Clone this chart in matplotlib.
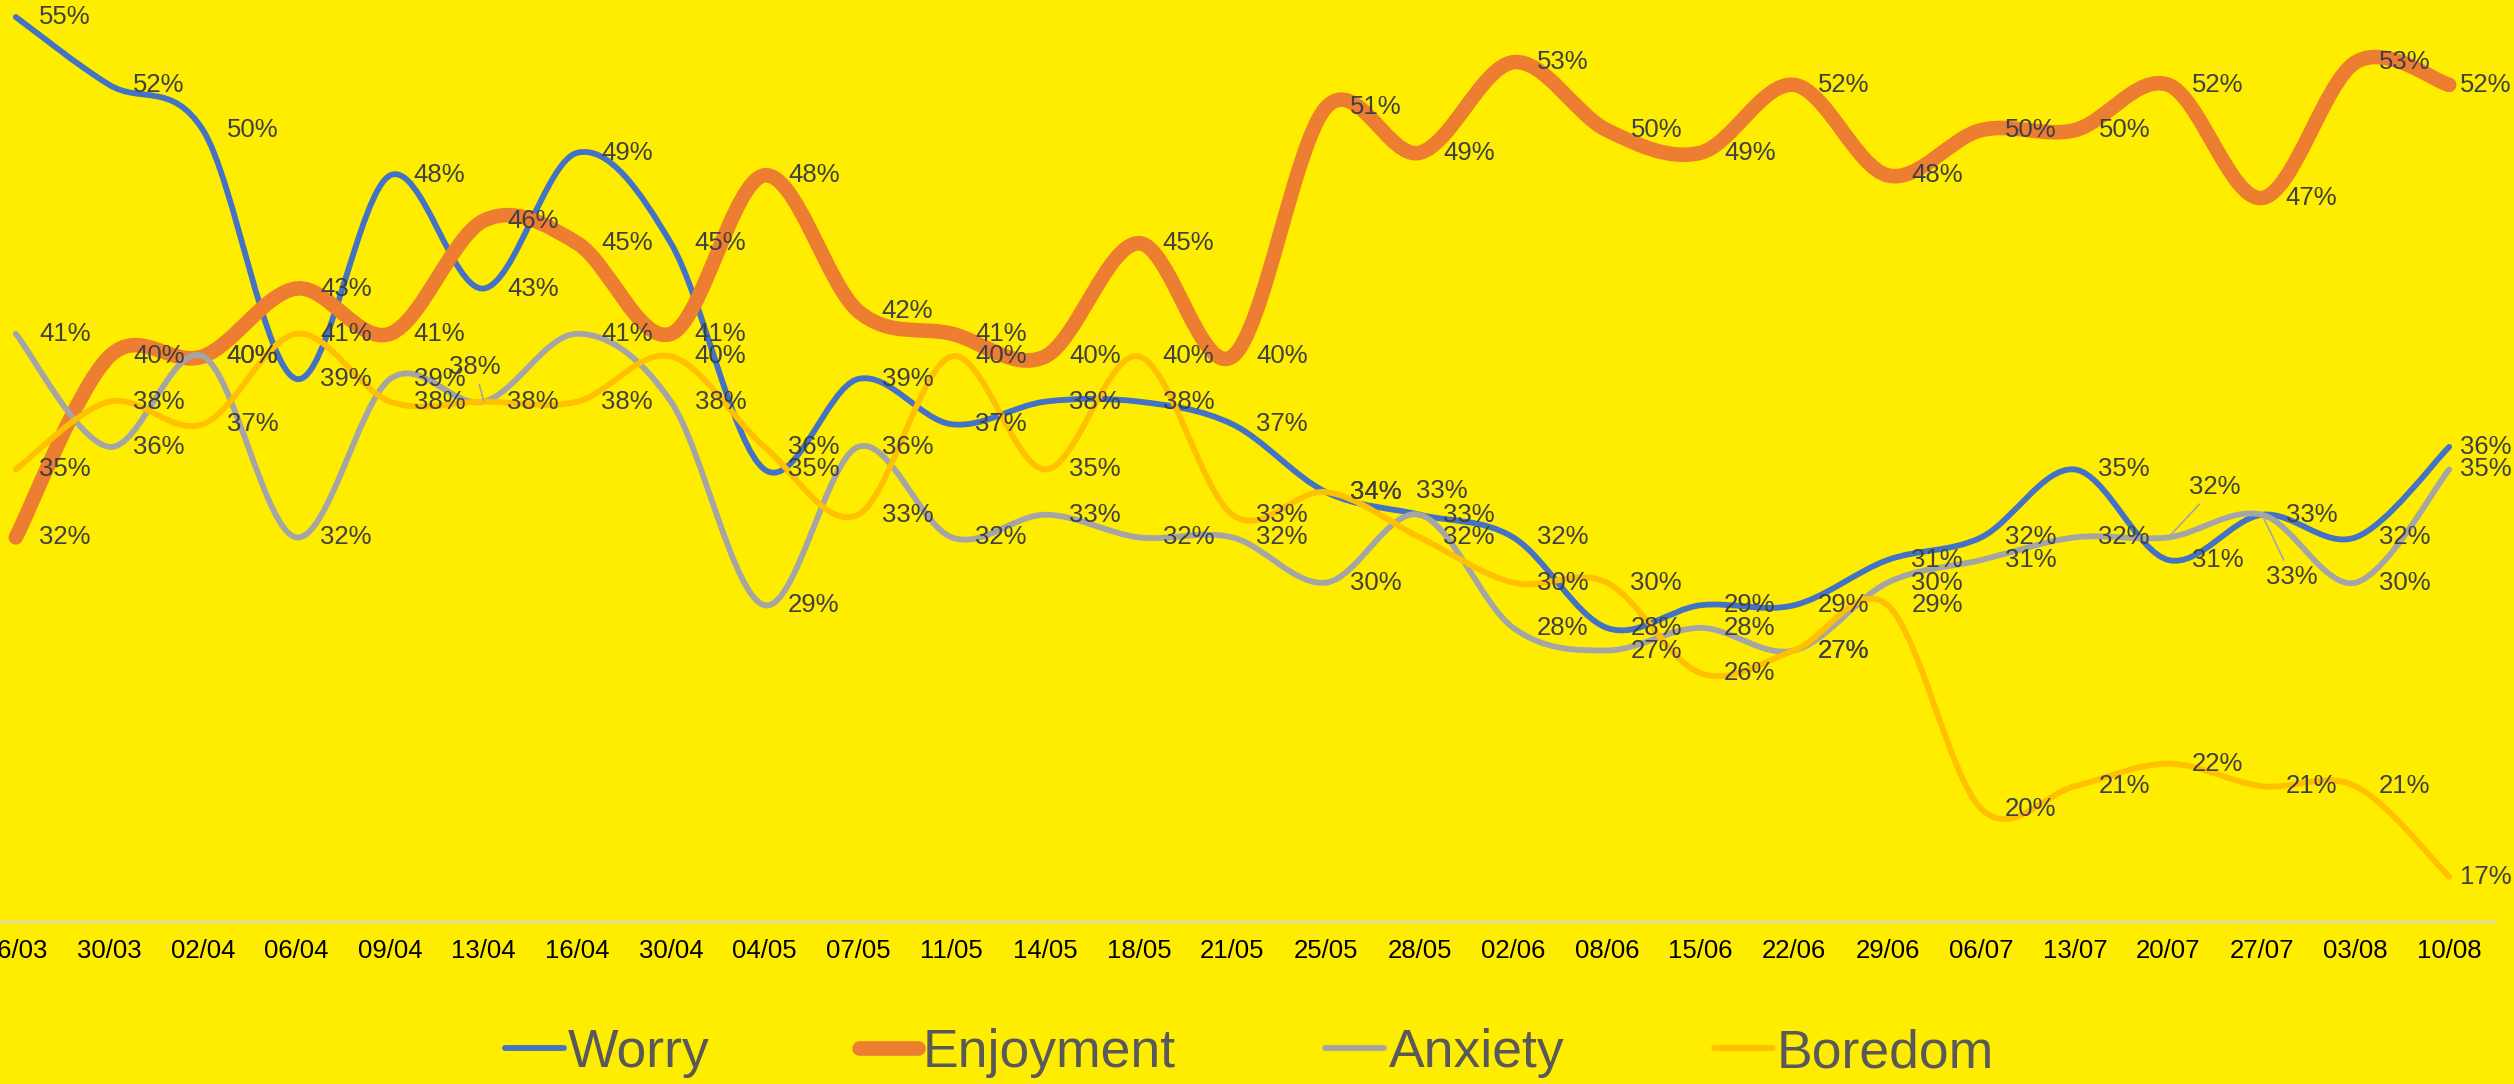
import matplotlib
matplotlib.use("Agg")
import matplotlib.pyplot as plt
from matplotlib.path import Path
from matplotlib.patches import PathPatch
from matplotlib.lines import Line2D

dates = ["26/03", "30/03", "02/04", "06/04", "09/04", "13/04", "16/04", "30/04",
         "04/05", "07/05", "11/05", "14/05", "18/05", "21/05", "25/05", "28/05",
         "02/06", "08/06", "15/06", "22/06", "29/06", "06/07", "13/07", "20/07",
         "27/07", "03/08", "10/08"]
worry = [55, 52, 50, 39, 48, 43, 49, 45, 35, 39, 37, 38, 38, 37, 34, 33, 32, 28,
         29, 29, 31, 32, 35, 31, 33, 32, 36]
enjoyment = [32, 40, 40, 43, 41, 46, 45, 41, 48, 42, 41, 40, 45, 40, 51, 49, 53,
             50, 49, 52, 48, 50, 50, 52, 47, 53, 52]
anxiety = [41, 36, 40, 32, 39, 38, 41, 38, 29, 36, 32, 33, 32, 32, 30, 33, 28, 27,
           28, 27, 30, 31, 32, 32, 33, 30, 35]
boredom = [35, 38, 37, 41, 38, 38, 38, 40, 36, 33, 40, 35, 40, 33, 34, 32, 30, 30,
           26, 27, 29, 20, 21, 22, 21, 21, 17]

series = [
    ("Worry", worry, "#4472C4", 4.2),
    ("Enjoyment", enjoyment, "#ED7D31", 10.5),
    ("Anxiety", anxiety, "#A5A5A5", 4.2),
    ("Boredom", boredom, "#FFC000", 4.2),
]

# labels moved away from their points (series name, index) -> offset in points, leader?
moved = {
    ("Anxiety", 5): (-25, 25, True),
    ("Anxiety", 23): (15, 36, True),
    ("Anxiety", 24): (3, -45, True),
    ("Worry", 15): (-3, 17, False),
}

BG = "#FFED00"
W, H = 2514, 1084
fig = plt.figure(figsize=(W / 100, H / 100), dpi=100, facecolor=BG)
plt.rcParams['font.family'] = ['Liberation Sans', 'DejaVu Sans']

ax = fig.add_axes([-31 / W, (H - 922) / H, 2527 / W, (922 - 17) / H])
ax.set_facecolor(BG)
ax.set_xlim(-0.5, len(dates) - 0.5)
ax.set_ylim(15, 55)


def smooth_path(xs, ys):
    pts = list(zip(xs, ys))
    n = len(pts)
    verts = [pts[0]]
    codes = [Path.MOVETO]
    for i in range(n - 1):
        p0 = pts[i - 1] if i > 0 else pts[i]
        p1 = pts[i]
        p2 = pts[i + 1]
        p3 = pts[i + 2] if i + 2 < n else pts[i + 1]
        c1 = (p1[0] + (p2[0] - p0[0]) / 6, p1[1] + (p2[1] - p0[1]) / 6)
        c2 = (p2[0] - (p3[0] - p1[0]) / 6, p2[1] - (p3[1] - p1[1]) / 6)
        verts += [c1, c2, p2]
        codes += [Path.CURVE4] * 3
    return Path(verts, codes)


xs = list(range(len(dates)))
handles = []
for z, (name, vals, color, lw) in enumerate(series):
    patch = PathPatch(smooth_path(xs, vals), facecolor="none", edgecolor=color,
                      lw=lw, capstyle="round", joinstyle="round", zorder=2 + z,
                      clip_on=False)
    ax.add_patch(patch)
    handles.append(Line2D([0], [0], color=color, lw=lw, solid_capstyle="round"))

LFS = 18.5
last = len(dates) - 1
for name, vals, color, lw in series:
    for i, v in enumerate(vals):
        if (name, i) in moved:
            dx, dy, leader = moved[(name, i)]
            ax.annotate(f"{v}%", xy=(i, v), xytext=(dx, dy), textcoords="offset points",
                        ha="left", va="center", fontsize=LFS, color="#404040",
                        zorder=10, annotation_clip=False,
                        arrowprops=dict(arrowstyle="-", color="#A5A5A5", lw=1.2,
                                        shrinkA=2, shrinkB=0) if leader else None)
        else:
            dx = 8 if i == last else 17
            ax.annotate(f"{v}%", xy=(i, v), xytext=(dx, 0), textcoords="offset points",
                        ha="left", va="center", fontsize=LFS, color="#404040",
                        zorder=10, annotation_clip=False)

for s in ["top", "left", "right"]:
    ax.spines[s].set_visible(False)
ax.spines["bottom"].set_color("#D9D9D9")
ax.spines["bottom"].set_linewidth(1.6)
ax.set_yticks([])
ax.set_xticks(xs)
ax.set_xticklabels(dates, fontsize=18.5, color="black")
ax.tick_params(axis="x", length=0, pad=12)

fig.legend(handles, [s[0] for s in series], loc="center",
           bbox_to_anchor=(0.497, (H - 1053) / H), ncol=4, frameon=False,
           fontsize=38.5, labelcolor="#595959", handlelength=1.1,
           handletextpad=0.08, columnspacing=2.8)

fig.savefig("out.png", dpi=100, facecolor=BG)
